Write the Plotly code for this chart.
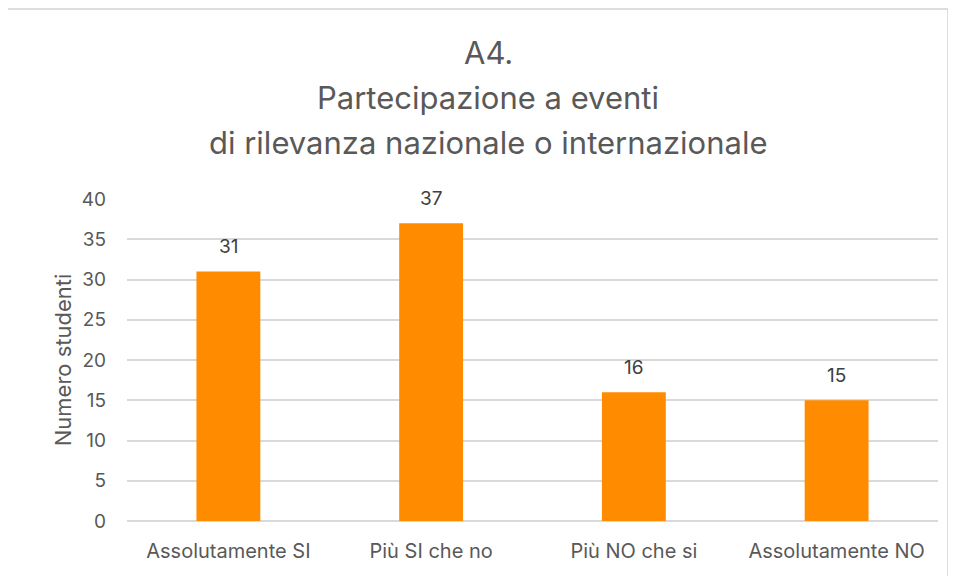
import plotly.graph_objects as go

categories = ["Assolutamente SI", "Più SI che no", "Più NO che si", "Assolutamente NO"]
values = [31, 37, 16, 15]
title_lines = ["A4.", "Partecipazione a eventi", "di rilevanza nazionale o internazionale"]

BAR_COLOR = "#FF8B00"
TEXT_COLOR = "#595959"
GRID_COLOR = "#D9D9D9"
FONT = "Inter, Roboto, Arial, sans-serif"

# page body adds an 8px offset, so work in shifted pixel coordinates
OFF = 8
W, H = 956, 576
L, R, T, B = 127 - OFF, 18 + OFF, 199 - OFF, 55 + OFF
pw, ph = W - L - R, H - T - B


def px_x(x):
    return (x - OFF - L) / pw


def px_y(y):
    return (H - B - (y - OFF)) / ph


fig = go.Figure(
    go.Bar(
        x=categories,
        y=values,
        marker=dict(color=BAR_COLOR, line=dict(width=0)),
        width=0.315,
        hoverinfo="x+y",
    )
)

for c, v in zip(categories, values):
    fig.add_annotation(
        x=c, y=v, text=str(v), showarrow=False, yshift=25,
        font=dict(size=19, color="#404040", family=FONT),
    )

for line, y in zip(title_lines, [52, 98, 143]):
    fig.add_annotation(
        xref="paper", yref="paper", x=px_x(488), y=px_y(y), text=line,
        showarrow=False, xanchor="center", yanchor="middle",
        font=dict(size=31, color=TEXT_COLOR, family=FONT),
    )

fig.add_shape(
    type="rect", xref="paper", yref="paper",
    x0=px_x(7), x1=px_x(948), y0=px_y(620), y1=px_y(9),
    line=dict(color="#DDDDDD", width=2), layer="below",
)

fig.update_layout(
    width=W,
    height=H,
    margin=dict(l=L, r=R, t=T, b=B),
    paper_bgcolor="white",
    plot_bgcolor="white",
    showlegend=False,
    font=dict(family=FONT, color=TEXT_COLOR, size=19),
    xaxis=dict(
        showgrid=False, showline=False, ticks="", ticklabelstandoff=16,
        tickfont=dict(size=20, color=TEXT_COLOR),
    ),
    yaxis=dict(
        range=[0, 40], dtick=5, showgrid=True, gridcolor=GRID_COLOR, gridwidth=1.5,
        zeroline=True, zerolinecolor=GRID_COLOR, zerolinewidth=1.5,
        showline=False, ticks="", ticklabelstandoff=20,
        tickfont=dict(size=19, color=TEXT_COLOR),
        title=dict(text="Numero studenti", font=dict(size=22, color=TEXT_COLOR), standoff=4),
    ),
)

fig.write_html("out.html")
